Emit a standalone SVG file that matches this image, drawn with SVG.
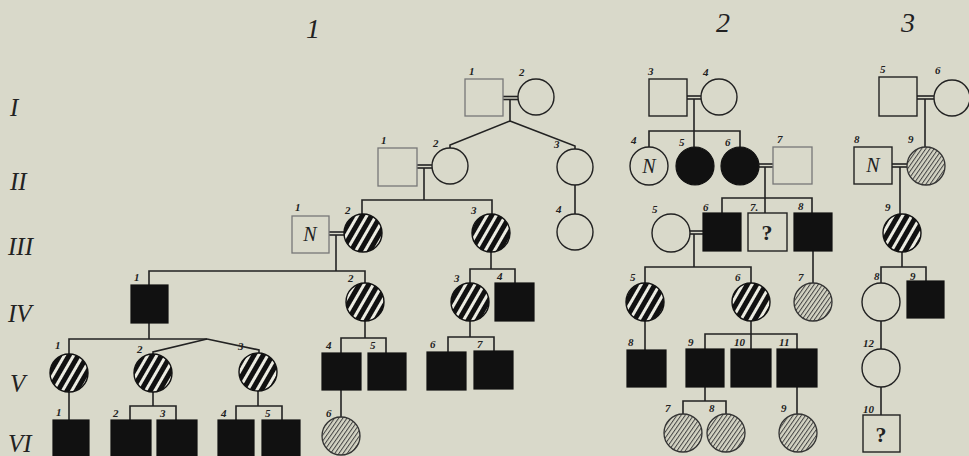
<svg xmlns="http://www.w3.org/2000/svg" width="969" height="456" viewBox="0 0 969 456">
<style>
.bg{fill:#d9d9ca}
.e{fill:#d9d9ca;stroke:#222;stroke-width:1.4}
.g{fill:#d9d9ca;stroke:#777;stroke-width:1.3}
.f{fill:#111;stroke:#111;stroke-width:1.2}
.h{fill:url(#hb);stroke:#111;stroke-width:1.4}
.l{fill:url(#hl);stroke:#333;stroke-width:1.3}
.c line,.c polyline{stroke:#222;stroke-width:1.6;fill:none}
.n{font-family:"Liberation Serif",serif;font-style:italic;font-weight:bold;font-size:11px;fill:#222}
.r{font-family:"Liberation Serif",serif;font-style:italic;font-size:25px;fill:#222}
.t{font-family:"Liberation Serif",serif;font-style:italic;font-size:28px;fill:#222}
.N{font-family:"Liberation Serif",serif;font-style:italic;font-size:20px;fill:#222;text-anchor:middle}
.q{font-family:"Liberation Serif",serif;font-weight:bold;font-size:22px;fill:#222;text-anchor:middle}
</style>
<defs>
<pattern id="hb" width="8" height="8" patternUnits="userSpaceOnUse" patternTransform="rotate(30)">
<rect width="8" height="8" fill="#111"/><rect x="0" width="3" height="8" fill="#ecece2"/>
</pattern>
<pattern id="hl" width="3.4" height="4" patternUnits="userSpaceOnUse" patternTransform="rotate(35)">
<rect width="3.4" height="4" fill="#d4d4c4"/><rect x="0" width="1" height="4" fill="#444"/>
</pattern>
</defs>
<rect class="bg" x="0" y="0" width="969" height="456"/>

<g id="titles">
<text class="t" x="306" y="38">1</text>
<text class="t" x="716" y="32">2</text>
<text class="t" x="901" y="32">3</text>
<text class="r" x="10" y="116">I</text>
<text class="r" x="10" y="190">II</text>
<text class="r" x="8" y="255">III</text>
<text class="r" x="8" y="322">IV</text>
<text class="r" x="10" y="392">V</text>
<text class="r" x="8" y="452">VI</text>
</g>

<g id="connectors" class="c">
<!-- pedigree 1 -->
<line x1="503" y1="96.5" x2="518" y2="96.5"/><line x1="503" y1="99.5" x2="518" y2="99.5"/>
<polyline points="510,100 510,121 450,145 450,148"/>
<polyline points="510,121 575,146 575,149"/>
<line x1="417" y1="165" x2="432" y2="165"/><line x1="417" y1="168" x2="432" y2="168"/>
<polyline points="424,168 424,200"/>
<polyline points="362,214 362,200 492,200 492,214"/>
<line x1="575" y1="185" x2="575" y2="214"/>
<line x1="329" y1="232" x2="344" y2="232"/><line x1="329" y1="235" x2="344" y2="235"/>
<line x1="336" y1="235" x2="336" y2="271"/>
<polyline points="149,285 149,271 365,271 365,283"/>
<line x1="491" y1="252" x2="491" y2="269"/>
<polyline points="470,283 470,269 515,269 515,283"/>
<line x1="149" y1="323" x2="149" y2="339"/>
<polyline points="69,354 69,339 207,339"/>
<polyline points="207,339 153,352 153,354"/>
<polyline points="207,339 259,350 259,353"/>
<line x1="69" y1="392" x2="69" y2="420"/>
<line x1="153" y1="392" x2="153" y2="406"/>
<polyline points="130,420 130,406 176,406 176,420"/>
<line x1="258" y1="391" x2="258" y2="406"/>
<polyline points="236,420 236,406 282,406 282,420"/>
<line x1="365" y1="321" x2="365" y2="338"/>
<polyline points="341,353 341,338 386,338 386,353"/>
<line x1="341" y1="390" x2="341" y2="417"/>
<line x1="470" y1="321" x2="470" y2="337"/>
<polyline points="448,352 448,337 494,337 494,351"/>
<!-- pedigree 2 -->
<line x1="687" y1="96" x2="701" y2="96"/><line x1="687" y1="99" x2="701" y2="99"/>
<line x1="694" y1="99" x2="694" y2="147"/>
<polyline points="649,147 649,131 740,131 740,147"/>
<line x1="759" y1="164" x2="773" y2="164"/><line x1="759" y1="167" x2="773" y2="167"/>
<line x1="765" y1="167" x2="765" y2="213"/>
<polyline points="722,213 722,198 812,198 812,213"/>
<line x1="690" y1="231" x2="703" y2="231"/><line x1="690" y1="234" x2="703" y2="234"/>
<line x1="694" y1="234" x2="694" y2="267"/>
<polyline points="645,283 645,267 751,267 751,283"/>
<line x1="813" y1="251" x2="813" y2="283"/>
<line x1="645" y1="321" x2="645" y2="350"/>
<line x1="751" y1="321" x2="751" y2="349"/>
<polyline points="705,349 705,334 797,334 797,349"/>
<line x1="705" y1="387" x2="705" y2="401"/>
<polyline points="683,414 683,401 726,401 726,414"/>
<line x1="797" y1="387" x2="797" y2="414"/>
<!-- pedigree 3 -->
<line x1="917" y1="96" x2="934" y2="96"/><line x1="917" y1="99" x2="934" y2="99"/>
<line x1="925" y1="99" x2="925" y2="147"/>
<line x1="892" y1="164" x2="907" y2="164"/><line x1="892" y1="167" x2="907" y2="167"/>
<line x1="900" y1="167" x2="900" y2="214"/>
<line x1="902" y1="252" x2="902" y2="267"/>
<polyline points="881,283 881,267 926,267 926,281"/>
<line x1="881" y1="321" x2="881" y2="349"/>
<line x1="881" y1="387" x2="881" y2="415"/>
</g>

<!-- Pedigree 1 nodes -->
<g id="p1-I-1"><rect class="g" x="465" y="79" width="38" height="37"/><text class="n" x="469" y="75">1</text></g>
<g id="p1-I-2"><circle class="e" cx="536" cy="97" r="18"/><text class="n" x="519" y="76">2</text></g>
<g id="p1-II-1"><rect class="g" x="378" y="148" width="39" height="38"/><text class="n" x="381" y="144">1</text></g>
<g id="p1-II-2"><circle class="e" cx="450" cy="166" r="18"/><text class="n" x="433" y="147">2</text></g>
<g id="p1-II-3"><circle class="e" cx="575" cy="167" r="18"/><text class="n" x="554" y="148">3</text></g>
<g id="p1-III-1"><rect class="g" x="292" y="216" width="37" height="37"/><text class="N" x="310" y="241">N</text><text class="n" x="295" y="211">1</text></g>
<g id="p1-III-2"><circle class="h" cx="363" cy="233" r="19"/><text class="n" x="345" y="214">2</text></g>
<g id="p1-III-3"><circle class="h" cx="491" cy="233" r="19"/><text class="n" x="471" y="214">3</text></g>
<g id="p1-III-4"><circle class="e" cx="575" cy="232" r="18"/><text class="n" x="556" y="213">4</text></g>
<g id="p1-IV-1"><rect class="f" x="131" y="285" width="37" height="38"/><text class="n" x="134" y="281">1</text></g>
<g id="p1-IV-2"><circle class="h" cx="365" cy="302" r="19"/><text class="n" x="348" y="282">2</text></g>
<g id="p1-IV-3"><circle class="h" cx="470" cy="302" r="19"/><text class="n" x="454" y="282">3</text></g>
<g id="p1-IV-4"><rect class="f" x="495" y="283" width="39" height="38"/><text class="n" x="497" y="280">4</text></g>
<g id="p1-V-1"><circle class="h" cx="69" cy="373" r="19"/><text class="n" x="55" y="349">1</text></g>
<g id="p1-V-2"><circle class="h" cx="153" cy="373" r="19"/><text class="n" x="137" y="353">2</text></g>
<g id="p1-V-3"><circle class="h" cx="258" cy="372" r="19"/><text class="n" x="238" y="350">3</text></g>
<g id="p1-V-4"><rect class="f" x="322" y="353" width="39" height="37"/><text class="n" x="326" y="349">4</text></g>
<g id="p1-V-5"><rect class="f" x="368" y="353" width="38" height="37"/><text class="n" x="370" y="349">5</text></g>
<g id="p1-V-6"><rect class="f" x="427" y="352" width="39" height="38"/><text class="n" x="430" y="348">6</text></g>
<g id="p1-V-7"><rect class="f" x="474" y="351" width="39" height="38"/><text class="n" x="477" y="348">7</text></g>
<g id="p1-VI-1"><rect class="f" x="53" y="420" width="36" height="38"/><text class="n" x="56" y="416">1</text></g>
<g id="p1-VI-2"><rect class="f" x="111" y="420" width="40" height="38"/><text class="n" x="113" y="417">2</text></g>
<g id="p1-VI-3"><rect class="f" x="157" y="420" width="40" height="38"/><text class="n" x="160" y="417">3</text></g>
<g id="p1-VI-4"><rect class="f" x="218" y="420" width="36" height="38"/><text class="n" x="221" y="417">4</text></g>
<g id="p1-VI-5"><rect class="f" x="262" y="420" width="38" height="38"/><text class="n" x="265" y="417">5</text></g>
<g id="p1-VI-6"><circle class="l" cx="341" cy="436" r="19"/><text class="n" x="326" y="417">6</text></g>

<!-- Pedigree 2 nodes -->
<g id="p2-I-3"><rect class="e" x="649" y="79" width="38" height="37"/><text class="n" x="648" y="75">3</text></g>
<g id="p2-I-4"><circle class="e" cx="719" cy="97" r="18"/><text class="n" x="703" y="76">4</text></g>
<g id="p2-II-4"><circle class="e" cx="649" cy="166" r="19"/><text class="N" x="649" y="173">N</text><text class="n" x="631" y="144">4</text></g>
<g id="p2-II-5"><circle class="f" cx="695" cy="166" r="19"/><text class="n" x="679" y="146">5</text></g>
<g id="p2-II-6"><circle class="f" cx="740" cy="166" r="19"/><text class="n" x="725" y="146">6</text></g>
<g id="p2-II-7"><rect class="g" x="773" y="147" width="39" height="37"/><text class="n" x="777" y="143">7</text></g>
<g id="p2-III-5"><circle class="e" cx="671" cy="233" r="19"/><text class="n" x="652" y="213">5</text></g>
<g id="p2-III-6"><rect class="f" x="703" y="213" width="38" height="38"/><text class="n" x="703" y="211">6</text></g>
<g id="p2-III-7"><rect class="e" x="748" y="213" width="39" height="38"/><text class="q" x="767" y="240">?</text><text class="n" x="750" y="211">7.</text></g>
<g id="p2-III-8"><rect class="f" x="794" y="213" width="38" height="38"/><text class="n" x="798" y="210">8</text></g>
<g id="p2-IV-5"><circle class="h" cx="645" cy="302" r="19"/><text class="n" x="630" y="281">5</text></g>
<g id="p2-IV-6"><circle class="h" cx="751" cy="302" r="19"/><text class="n" x="735" y="281">6</text></g>
<g id="p2-IV-7"><circle class="l" cx="813" cy="302" r="19"/><text class="n" x="798" y="281">7</text></g>
<g id="p2-V-8"><rect class="f" x="627" y="350" width="39" height="37"/><text class="n" x="628" y="346">8</text></g>
<g id="p2-V-9"><rect class="f" x="686" y="349" width="38" height="38"/><text class="n" x="688" y="346">9</text></g>
<g id="p2-V-10"><rect class="f" x="731" y="349" width="40" height="38"/><text class="n" x="734" y="346">10</text></g>
<g id="p2-V-11"><rect class="f" x="777" y="349" width="40" height="38"/><text class="n" x="779" y="346">11</text></g>
<g id="p2-VI-7"><circle class="l" cx="683" cy="433" r="19"/><text class="n" x="665" y="412">7</text></g>
<g id="p2-VI-8"><circle class="l" cx="726" cy="433" r="19"/><text class="n" x="709" y="412">8</text></g>
<g id="p2-VI-9"><circle class="l" cx="798" cy="433" r="19"/><text class="n" x="781" y="412">9</text></g>

<!-- Pedigree 3 nodes -->
<g id="p3-I-5"><rect class="e" x="879" y="77" width="38" height="39"/><text class="n" x="880" y="73">5</text></g>
<g id="p3-I-6"><circle class="e" cx="952" cy="98" r="18"/><text class="n" x="935" y="74">6</text></g>
<g id="p3-II-8"><rect class="e" x="854" y="147" width="38" height="37"/><text class="N" x="873" y="172">N</text><text class="n" x="854" y="143">8</text></g>
<g id="p3-II-9"><circle class="l" cx="926" cy="166" r="19"/><text class="n" x="908" y="143">9</text></g>
<g id="p3-III-9"><circle class="h" cx="902" cy="233" r="19"/><text class="n" x="885" y="211">9</text></g>
<g id="p3-IV-8"><circle class="e" cx="881" cy="302" r="19"/><text class="n" x="874" y="280">8</text></g>
<g id="p3-IV-9"><rect class="f" x="907" y="281" width="37" height="37"/><text class="n" x="910" y="280">9</text></g>
<g id="p3-V-12"><circle class="e" cx="881" cy="368" r="19"/><text class="n" x="863" y="347">12</text></g>
<g id="p3-VI-10"><rect class="e" x="863" y="415" width="37" height="37"/><text class="q" x="881" y="442">?</text><text class="n" x="863" y="413">10</text></g>
</svg>
